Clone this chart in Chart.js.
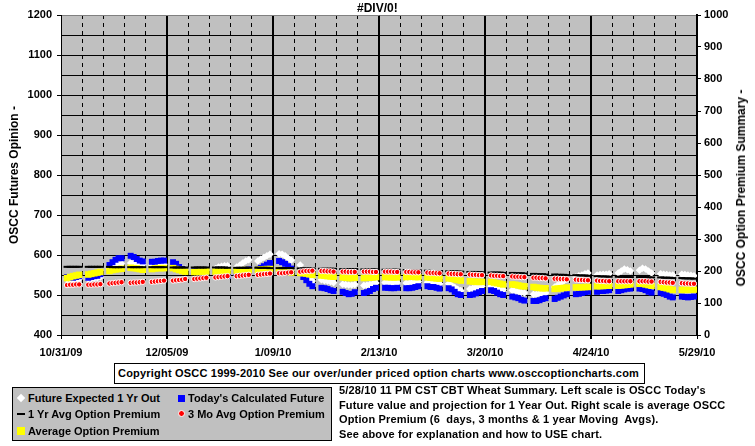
<!DOCTYPE html>
<html>
<head>
<meta charset="utf-8">
<script src="https://cdn.jsdelivr.net/npm/chart.js@4.4.1/dist/chart.umd.min.js"></script>
<style>
  body { margin: 0; background: #fff; }
  #wrap { position: relative; width: 755px; height: 446px; overflow: hidden;
    font-family: "Liberation Sans", Arial, sans-serif; font-weight: bold; font-size: 11px; color: #000; }
  #chart { position: absolute; left: 0; top: 0; }
  .abs { position: absolute; white-space: pre; }
  #title { left: 357px; top: 0; font-size: 12px; line-height: 16px; }
  #rtitle { left: 741px; top: 188px; font-size: 12px; transform: translate(-50%, -50%) rotate(-90deg); }
  #copy { left: 114px; top: 363px; width: 531px; height: 21px; border: 1px solid #000; box-sizing: border-box;
    line-height: 19px; padding-left: 3px; background: #fff; letter-spacing: 0.2px; }
  #legend { left: 12px; top: 387px; width: 320px; height: 54px; border: 1px solid #000; box-sizing: border-box;
    background: #c0c0c0; }
  #legend .item { position: absolute; line-height: 13px; }
  #legend .mk { position: absolute; }
  #desc { left: 339px; top: 383px; line-height: 14.6px; letter-spacing: 0.15px; }
</style>
</head>
<body>
<div id="wrap">
  <canvas id="chart" width="755" height="372"></canvas>
  <div class="abs" id="title">#DIV/0!</div>
  <div class="abs" id="rtitle">OSCC Option Premium Summary -</div>
  <div class="abs" id="copy">Copyright OSCC 1999-2010 See our over/under priced option charts www.osccoptioncharts.com</div>
  <div class="abs" id="legend">
    <div class="mk" style="left:5px;top:7px;width:6px;height:6px;background:#fff;transform:rotate(45deg)"></div>
    <div class="item" style="left:15px;top:4px">Future Expected 1 Yr Out</div>
    <div class="mk" style="left:165px;top:7px;width:7px;height:7px;background:#0000ff"></div>
    <div class="item" style="left:175px;top:4px">Today's Calculated Future</div>
    <div class="mk" style="left:4px;top:25px;width:8px;height:2px;background:#000"></div>
    <div class="item" style="left:15px;top:20px">1 Yr Avg Option Premium</div>
    <div class="mk" style="left:165px;top:22px;width:5px;height:5px;background:#ff0000;border:1px solid #fff;border-radius:50%"></div>
    <div class="item" style="left:175px;top:20px">3 Mo Avg Option Premium</div>
    <div class="mk" style="left:4px;top:39px;width:8px;height:8px;background:#ffff00"></div>
    <div class="item" style="left:15px;top:37px">Average Option Premium</div>
  </div>
  <div class="abs" id="desc">5/28/10 11 PM CST CBT Wheat Summary. Left scale is OSCC Today's
Future value and projection for 1 Year Out. Right scale is average OSCC
Option Premium (6  days, 3 months &amp; 1 year Moving  Avgs).
See above for explanation and how to USE chart.</div>
</div>
<script>
// Trading days, counted from 10/31/09
const tradeDays = [
  2, 3, 4, 5, 6, 9, 10, 11, 12, 13, 16, 17, 18, 19, 20, 23, 24, 25, 26, 27,
  30, 31, 32, 33, 34, 37, 38, 39, 40, 41, 44, 45, 46, 47, 48, 51, 52, 53, 54, 55,
  58, 59, 60, 61, 62, 65, 66, 67, 68, 69, 72, 73, 74, 75, 76, 79, 80, 81, 82, 83,
  86, 87, 88, 89, 90, 93, 94, 95, 96, 97, 100, 101, 102, 103, 104, 107, 108, 109, 110, 111,
  114, 115, 116, 117, 118, 121, 122, 123, 124, 125, 128, 129, 130, 131, 132, 135, 136, 137, 138, 139,
  142, 143, 144, 145, 146, 149, 150, 151, 152, 153, 156, 157, 158, 159, 160, 163, 164, 165, 166, 167,
  170, 171, 172, 173, 174, 177, 178, 179, 180, 181, 184, 185, 186, 187, 188, 191, 192, 193, 194, 195,
  198, 199, 200, 201, 202, 205, 206, 207, 208, 209
];
const dateLabels = ["10/31/09", "12/05/09", "1/09/10", "2/13/10", "3/20/10", "4/24/10", "5/29/10"];

// left scale
const futureExpected = [
  540, 540, 539, 539, 540, 540, 541, 542, 543, 545, 565, 570, 574, 577, 578, 580, 580, 578, 577, 576,
  575, 576, 576, 577, 577, 570, 568, 566, 565, 565, 560, 560, 561, 562, 563, 566, 570, 572, 573, 573,
  570, 574, 580, 585, 588, 585, 590, 594, 598, 602, 603, 602, 598, 592, 587, 575, 560, 548, 540, 535,
  538, 536, 535, 533, 531, 527, 526, 525, 525, 526, 524, 525, 526, 528, 530, 531, 531, 530, 530, 531,
  530, 530, 531, 532, 533, 532, 531, 530, 529, 528, 528, 524, 519, 514, 511, 515, 517, 519, 521, 522,
  522, 520, 518, 515, 513, 512, 510, 508, 506, 505, 502, 502, 503, 504, 505, 520, 525, 530, 535, 540,
  545, 548, 550, 553, 555, 550, 551, 552, 552, 553, 555, 560, 565, 563, 560, 562, 567, 565, 560, 555,
  553, 552, 551, 550, 550, 552, 551, 550, 549, 548
];
const todaysFuture = [
  545, 545, 543, 545, 547, 543, 545, 547, 548, 552, 575, 582, 588, 592, 592, 598, 595, 590, 586, 584,
  583, 583, 585, 586, 586, 582, 578, 570, 565, 562, 560, 558, 558, 560, 560, 558, 556, 555, 552, 548,
  555, 558, 560, 562, 565, 565, 568, 572, 576, 580, 585, 582, 578, 572, 566, 555, 545, 537, 528, 522,
  518, 517, 515, 512, 510, 508, 505, 502, 503, 507, 505, 507, 510, 515, 518, 518, 518, 517, 517, 518,
  517, 517, 518, 520, 522, 522, 520, 520, 518, 516, 517, 514, 508, 502, 500, 500, 501, 504, 507, 510,
  512, 510, 506, 502, 500, 496, 494, 492, 488, 486, 485, 485, 487, 490, 492, 490, 493, 496, 499, 502,
  502, 503, 505, 507, 508, 508, 510, 510, 511, 512, 510, 512, 514, 516, 516, 516, 515, 512, 508, 506,
  506, 503, 500, 496, 494, 496, 495, 494, 495, 496
];

// right scale
const yrAvgPremium = [
  213, 213, 213, 213, 213, 213, 213, 213, 213, 213, 213, 212, 212, 212, 212, 212, 212, 212, 212, 212,
  212, 212, 212, 212, 212, 211, 211, 211, 211, 211, 211, 211, 211, 211, 211, 211, 211, 211, 211, 210,
  210, 210, 210, 210, 210, 210, 210, 210, 210, 209, 209, 209, 209, 209, 209, 208, 208, 208, 208, 208,
  207, 207, 207, 207, 207, 206, 206, 206, 206, 206, 205, 205, 205, 205, 205, 204, 204, 204, 204, 204,
  203, 202, 202, 202, 202, 201, 200, 200, 200, 200, 199, 199, 199, 198, 198, 197, 197, 197, 196, 196,
  195, 195, 195, 195, 194, 194, 193, 193, 193, 192, 191, 190, 190, 190, 189, 189, 188, 188, 188, 187,
  187, 186, 186, 186, 185, 184, 183, 183, 183, 182, 182, 182, 182, 181, 181, 181, 181, 181, 180, 180,
  180, 179, 179, 179, 178, 178, 177, 177, 177, 176
];
const moAvgPremium = [
  156, 157, 157, 158, 158, 157, 157, 158, 158, 159, 161, 162, 163, 164, 165, 163, 164, 164, 165, 166,
  166, 167, 168, 169, 170, 170, 171, 172, 173, 175, 175, 176, 177, 178, 179, 180, 181, 182, 183, 184,
  184, 185, 186, 187, 188, 188, 189, 190, 191, 192, 193, 193, 194, 195, 196, 198, 199, 200, 200, 201,
  200, 200, 199, 199, 198, 198, 198, 197, 197, 197, 198, 198, 198, 197, 197, 198, 198, 198, 197, 197,
  197, 197, 196, 196, 196, 195, 194, 194, 193, 193, 192, 191, 191, 190, 190, 189, 188, 188, 187, 187,
  186, 185, 185, 184, 184, 183, 182, 182, 181, 181, 179, 179, 178, 178, 177, 176, 176, 175, 175, 174,
  173, 172, 172, 171, 171, 170, 169, 169, 168, 168, 168, 168, 168, 168, 168, 168, 168, 168, 167, 167,
  166, 165, 164, 164, 163, 162, 161, 161, 160, 160
];
const avgPremium = [
  178, 181, 184, 186, 188, 189, 191, 193, 195, 197, 200, 203, 205, 206, 207, 210, 209, 208, 206, 204,
  206, 208, 209, 209, 209, 209, 206, 203, 200, 198, 197, 197, 198, 198, 199, 198, 199, 199, 200, 200,
  201, 201, 202, 203, 203, 204, 205, 205, 206, 206, 203, 201, 199, 197, 195, 194, 193, 192, 190, 188,
  186, 185, 184, 183, 182, 180, 179, 178, 178, 179, 178, 179, 179, 180, 181, 181, 181, 180, 180, 180,
  181, 182, 182, 181, 181, 180, 179, 178, 177, 176, 177, 176, 174, 172, 170, 168, 167, 166, 166, 166,
  166, 164, 162, 160, 158, 158, 157, 155, 153, 152, 150, 148, 147, 146, 146, 144, 145, 146, 147, 148,
  149, 149, 149, 150, 150, 152, 153, 153, 154, 154, 154, 155, 156, 157, 158, 160, 160, 158, 156, 154,
  150, 148, 146, 143, 141, 141, 141, 142, 142, 142
];

const toPoints = (vals) => vals.map((v, i) => ({ x: tradeDays[i], y: v }));

// gray plot background
const plotBg = {
  id: "plotBg",
  beforeDraw(chart) {
    const { ctx, chartArea: a } = chart;
    ctx.save();
    ctx.fillStyle = "#C0C0C0";
    ctx.fillRect(a.left, a.top, a.width, a.height);
    ctx.restore();
  },
};

Chart.defaults.font.family = '"Liberation Sans", Arial, sans-serif';
Chart.defaults.font.size = 11;
Chart.defaults.font.weight = "bold";
Chart.defaults.color = "#000";

new Chart(document.getElementById("chart"), {
  type: "scatter",
  data: {
    datasets: [
      {
        label: "3 Mo Avg Option Premium",
        data: toPoints(moAvgPremium),
        yAxisID: "y2",
        pointStyle: "circle",
        pointRadius: 2.7,
        backgroundColor: "#FF0000",
        borderColor: "#FFFFFF",
        borderWidth: 1,
      },
      {
        label: "1 Yr Avg Option Premium",
        data: toPoints(yrAvgPremium),
        yAxisID: "y2",
        pointStyle: "line",
        pointRadius: 3.5,
        borderColor: "#000000",
        borderWidth: 2,
      },
      {
        label: "Average Option Premium",
        data: toPoints(avgPremium),
        yAxisID: "y2",
        pointStyle: "rect",
        pointRadius: 4.6,
        backgroundColor: "#FFFF00",
        borderWidth: 0,
      },
      {
        label: "Today's Calculated Future",
        data: toPoints(todaysFuture),
        yAxisID: "y",
        pointStyle: "rect",
        pointRadius: 4.2,
        backgroundColor: "#0000FF",
        borderWidth: 0,
      },
      {
        label: "Future Expected 1 Yr Out",
        data: toPoints(futureExpected),
        yAxisID: "y",
        pointStyle: "rectRot",
        pointRadius: 3.8,
        backgroundColor: "#FFFFFF",
        borderWidth: 0,
      },
    ],
  },
  options: {
    responsive: false,
    animation: false,
    events: [],
    layout: { padding: { top: 15, left: 0, right: 0, bottom: 0 } },
    plugins: {
      legend: { display: false },
      tooltip: { enabled: false },
      title: { display: false },
    },
    scales: {
      x: {
        type: "linear",
        min: 0,
        max: 210,
        afterFit: (s) => { s.height = 37; },
        ticks: {
          stepSize: 7,
          autoSkip: false,
          maxRotation: 0,
          padding: 7,
          callback: (v) => (v % 35 === 0 ? dateLabels[v / 35] : ""),
        },
        grid: {
          color: "#000",
          lineWidth: (c) => (c.tick && c.tick.value % 35 === 0 && c.tick.value > 0 && c.tick.value < 210 ? 2 : 1),
          tickLength: 4,
          tickColor: "#000",
        },
        border: {
          color: "#000",
          width: 1,
          dash: (c) => (c.tick && c.tick.value % 35 !== 0 ? [4, 4] : []),
        },
      },
      y: {
        position: "left",
        min: 400,
        max: 1200,
        afterFit: (s) => { s.width = 61; },
        ticks: {
          stepSize: 50,
          padding: 5,
          callback: (v) => (v % 100 === 0 ? String(v) : ""),
        },
        grid: {
          color: (c) => (c.tick && c.tick.value === 1200 ? "#808080" : "#000"),
          lineWidth: 1,
          tickLength: 4,
          tickColor: (c) => (c.tick && c.tick.value % 100 === 0 ? "#000" : "rgba(0,0,0,0)"),
        },
        border: { color: "#000", width: 1 },
        title: {
          display: true,
          text: "OSCC Futures Opinion -",
          font: { size: 12, weight: "bold" },
          padding: { top: 7, bottom: 0 },
        },
      },
      y2: {
        position: "right",
        min: 0,
        max: 1000,
        afterFit: (s) => { s.width = 58; },
        ticks: { stepSize: 100, padding: 3, callback: (v) => String(v) },
        grid: { drawOnChartArea: false, tickLength: 4, tickColor: "#000" },
        border: { color: "#000", width: 2 },
      },
    },
  },
  plugins: [plotBg],
});
</script>
</body>
</html>
